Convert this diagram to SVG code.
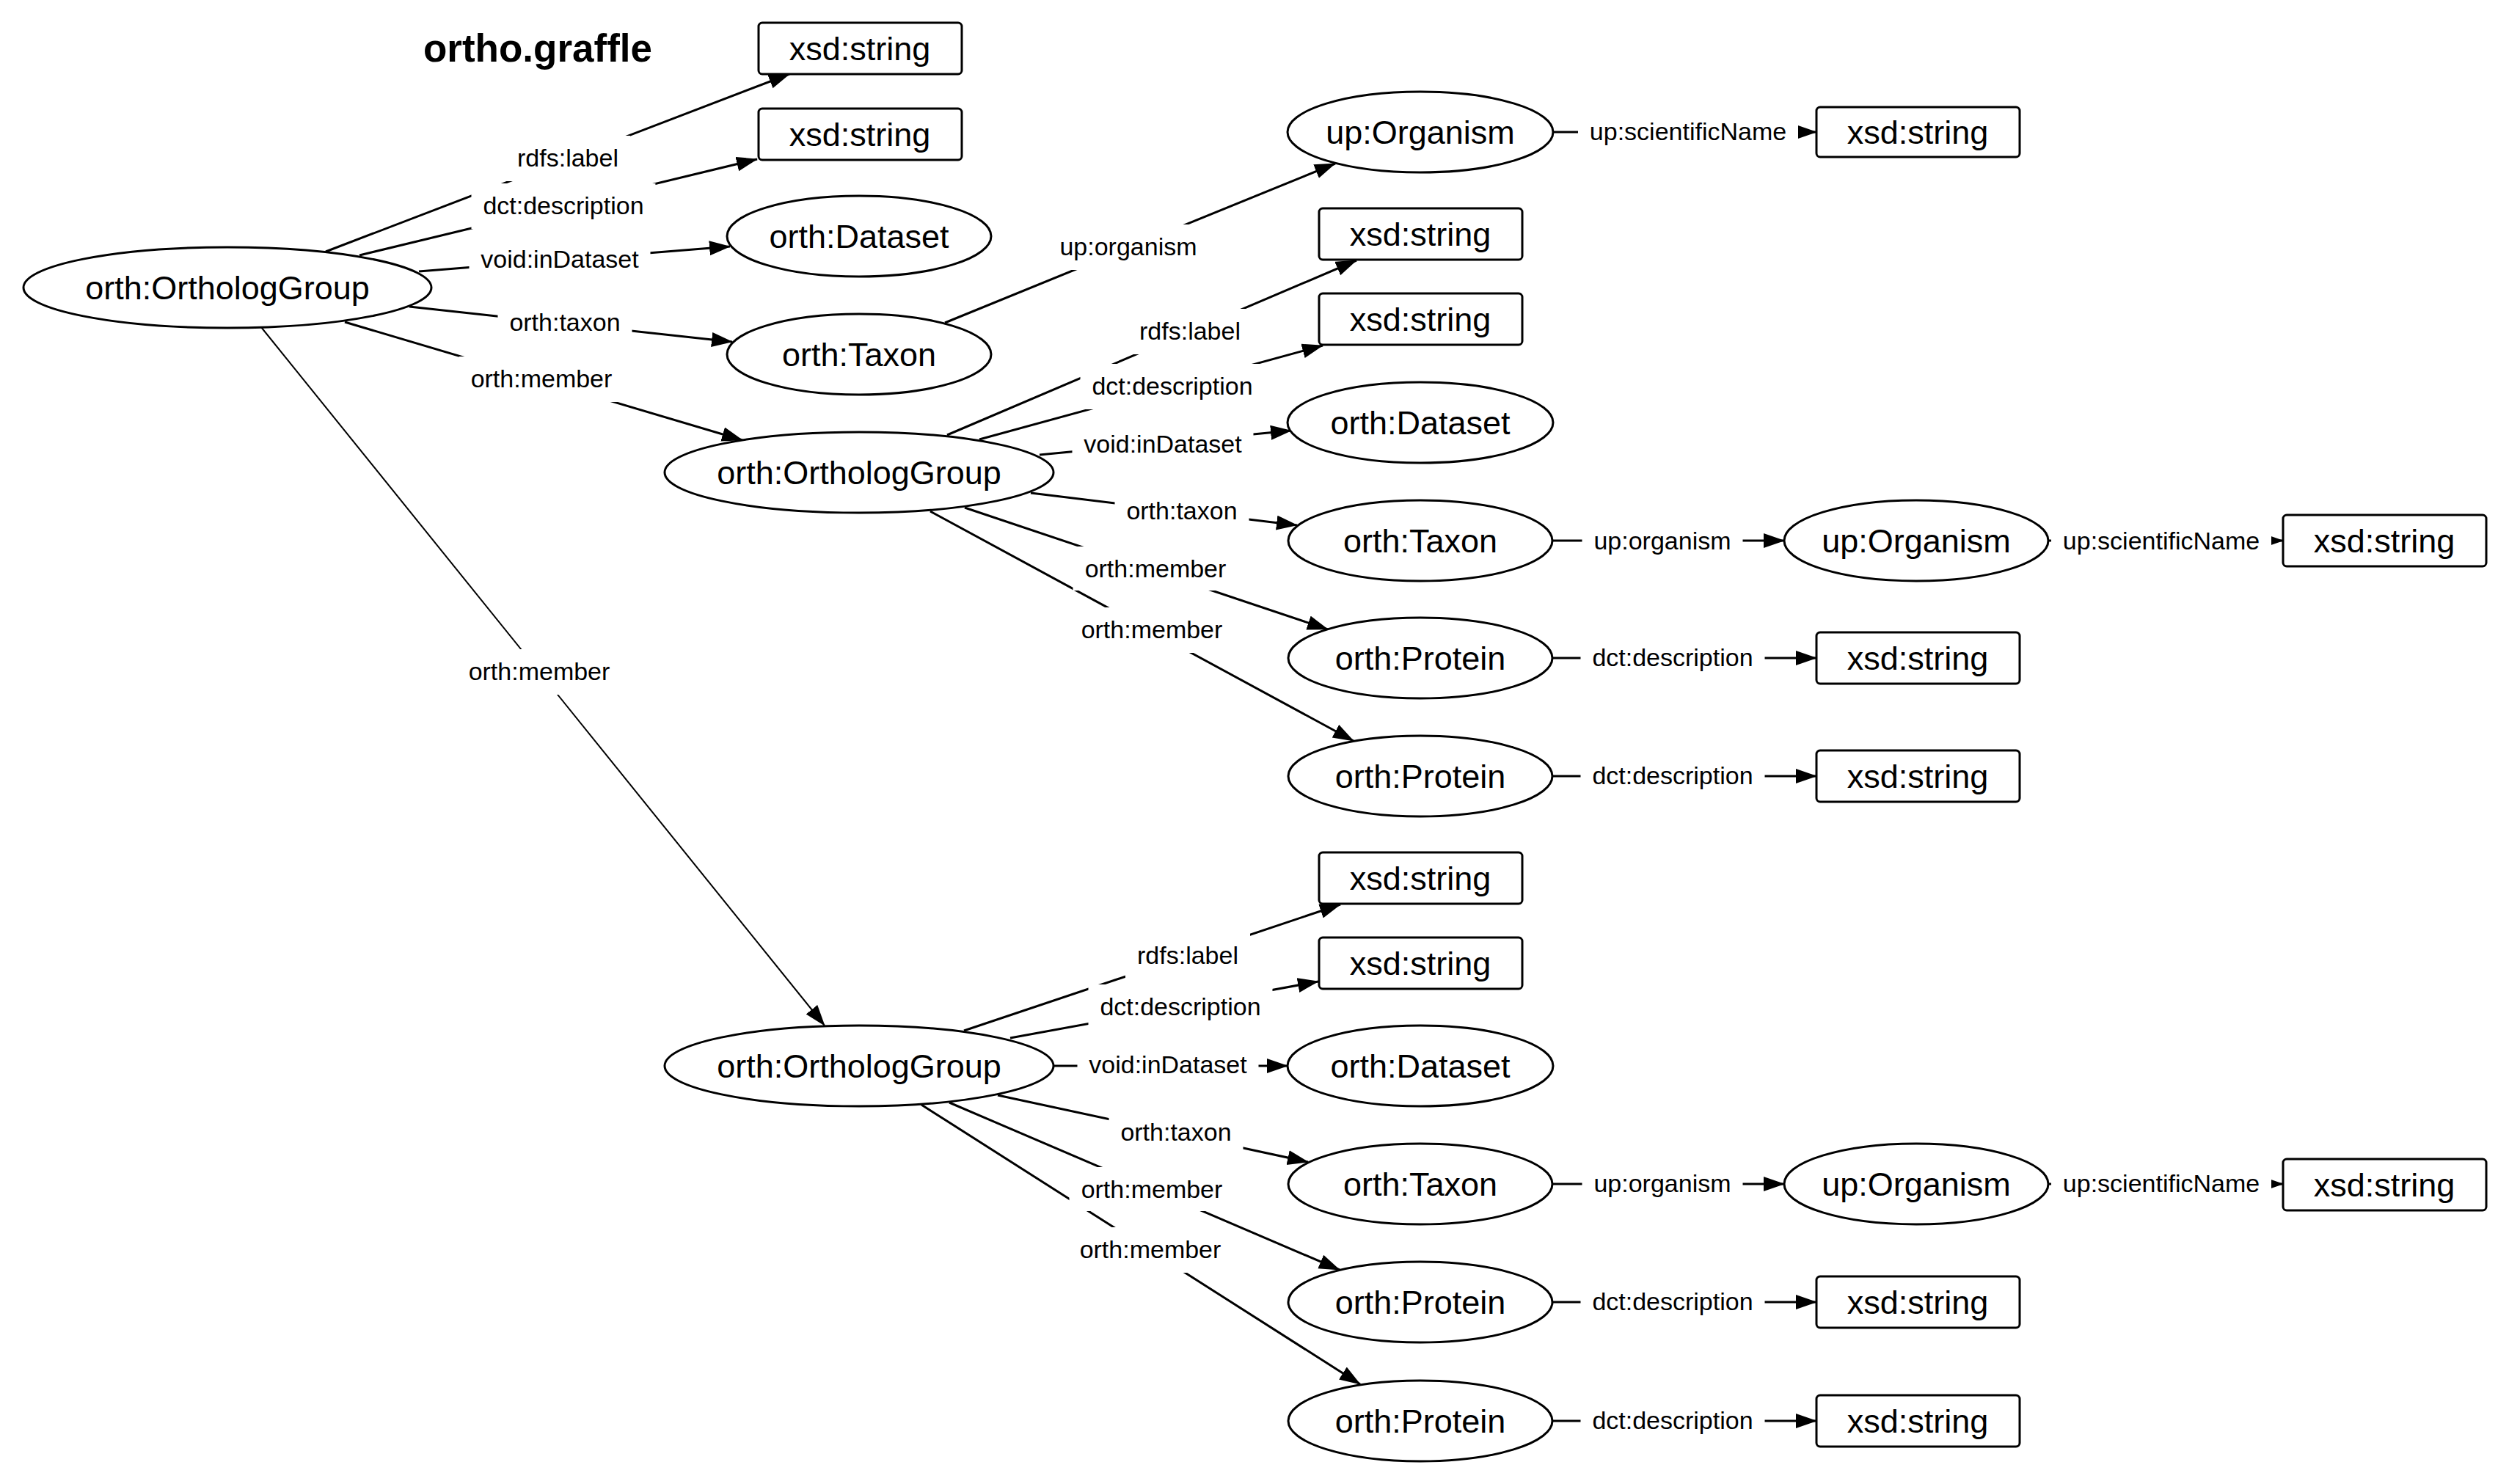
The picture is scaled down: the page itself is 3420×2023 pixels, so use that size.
<svg xmlns="http://www.w3.org/2000/svg" width="3420" height="2023" viewBox="0 0 3420 2023">
<defs>
<marker id="arrow" markerUnits="userSpaceOnUse" markerWidth="30" markerHeight="22" refX="28" refY="10" orient="auto">
<path d="M0,0 L29,10 L0,20 Z" fill="#000"/>
</marker>
<style>
.edge{stroke:#000;stroke-width:3;fill:none;marker-end:url(#arrow)}
.thin{stroke-width:2}
.lbg{fill:#fff;stroke:none}
.lbl{font-family:"Liberation Sans",Arial,Helvetica,sans-serif;font-size:34px;fill:#000;text-anchor:middle}
.node ellipse,.node rect{fill:#fff;stroke:#000;stroke-width:3}
.node text{font-family:"Liberation Sans",Arial,Helvetica,sans-serif;font-size:45px;fill:#000;text-anchor:middle}
.title{font-family:"Liberation Sans",Arial,Helvetica,sans-serif;font-size:53px;font-weight:bold;fill:#000;text-anchor:middle}
</style>
</defs>
<rect width="3420" height="2023" fill="#fff"/>
<text class="title" x="733" y="84">ortho.graffle</text>

<g id="connectors">
<line class="edge" x1="444" y1="343" x2="1076" y2="101"/>
<line class="edge" x1="490" y1="348" x2="1032" y2="217"/>
<line class="edge" x1="571" y1="370" x2="995" y2="336"/>
<line class="edge" x1="558" y1="418" x2="998" y2="466"/>
<line class="edge" x1="470" y1="439" x2="1012" y2="600"/>
<line class="edge thin" x1="356" y1="446" x2="1124" y2="1398"/>
<line class="edge" x1="1288" y1="440" x2="1820" y2="223"/>
<line class="edge" x1="2117" y1="180" x2="2476" y2="180"/>

<line class="edge" x1="1291" y1="593" x2="1849" y2="355"/>
<line class="edge" x1="1335" y1="599" x2="1803" y2="471"/>
<line class="edge" x1="1417" y1="620" x2="1760" y2="587"/>
<line class="edge" x1="1405" y1="672" x2="1768" y2="716"/>
<line class="edge" x1="1315" y1="692" x2="1810" y2="858"/>
<line class="edge" x1="1268" y1="697" x2="1845" y2="1010"/>
<line class="edge" x1="2116" y1="737" x2="2432" y2="737"/>
<line class="edge" x1="2792" y1="737" x2="3112" y2="737"/>
<line class="edge" x1="2116" y1="897" x2="2476" y2="897"/>
<line class="edge" x1="2116" y1="1058" x2="2476" y2="1058"/>

<line class="edge" x1="1314" y1="1405" x2="1827" y2="1233"/>
<line class="edge" x1="1377" y1="1415" x2="1797" y2="1338"/>
<line class="edge" x1="1437" y1="1453" x2="1755" y2="1453"/>
<line class="edge" x1="1360" y1="1493" x2="1783" y2="1584"/>
<line class="edge" x1="1294" y1="1503" x2="1826" y2="1731"/>
<line class="edge" x1="1256" y1="1506" x2="1854" y2="1887"/>
<line class="edge" x1="2116" y1="1614" x2="2432" y2="1614"/>
<line class="edge" x1="2792" y1="1614" x2="3112" y2="1614"/>
<line class="edge" x1="2116" y1="1775" x2="2476" y2="1775"/>
<line class="edge" x1="2116" y1="1937" x2="2476" y2="1937"/>
</g>

<g id="edge-labels">
<g><rect class="lbg" x="689" y="185" width="170" height="62"/><text class="lbl" x="774" y="227">rdfs:label</text></g>
<g><rect class="lbg" x="642.5" y="250" width="251" height="62"/><text class="lbl" x="768" y="292">dct:description</text></g>
<g><rect class="lbg" x="639.5" y="323" width="247" height="62"/><text class="lbl" x="763" y="365">void:inDataset</text></g>
<g><rect class="lbg" x="678.5" y="409" width="183" height="62"/><text class="lbl" x="770" y="451">orth:taxon</text></g>
<g><rect class="lbg" x="625.5" y="486" width="225" height="62"/><text class="lbl" x="738" y="528">orth:member</text></g>
<g><rect class="lbg" x="622.5" y="885" width="225" height="62"/><text class="lbl" x="735" y="927">orth:member</text></g>
<g><rect class="lbg" x="1428.5" y="306" width="219" height="62"/><text class="lbl" x="1538" y="348">up:organism</text></g>
<g><rect class="lbg" x="2151" y="149" width="300" height="62"/><text class="lbl" x="2301" y="191">up:scientificName</text></g>

<g><rect class="lbg" x="1537" y="421" width="170" height="62"/><text class="lbl" x="1622" y="463">rdfs:label</text></g>
<g><rect class="lbg" x="1472.5" y="496" width="251" height="62"/><text class="lbl" x="1598" y="538">dct:description</text></g>
<g><rect class="lbg" x="1461.5" y="575" width="247" height="62"/><text class="lbl" x="1585" y="617">void:inDataset</text></g>
<g><rect class="lbg" x="1519.5" y="666" width="183" height="62"/><text class="lbl" x="1611" y="708">orth:taxon</text></g>
<g><rect class="lbg" x="1462.5" y="745" width="225" height="60"/><text class="lbl" x="1575" y="787">orth:member</text></g>
<g><rect class="lbg" x="1457.5" y="828" width="225" height="62"/><text class="lbl" x="1570" y="870">orth:member</text></g>
<g><rect class="lbg" x="2156.5" y="707" width="219" height="62"/><text class="lbl" x="2266" y="749">up:organism</text></g>
<g><rect class="lbg" x="2796" y="707" width="300" height="62"/><text class="lbl" x="2946" y="749">up:scientificName</text></g>
<g><rect class="lbg" x="2154.5" y="866" width="251" height="62"/><text class="lbl" x="2280" y="908">dct:description</text></g>
<g><rect class="lbg" x="2154.5" y="1027" width="251" height="62"/><text class="lbl" x="2280" y="1069">dct:description</text></g>

<g><rect class="lbg" x="1534" y="1272" width="170" height="62"/><text class="lbl" x="1619" y="1314">rdfs:label</text></g>
<g><rect class="lbg" x="1483.5" y="1342" width="251" height="62"/><text class="lbl" x="1609" y="1384">dct:description</text></g>
<g><rect class="lbg" x="1468.5" y="1421" width="247" height="62"/><text class="lbl" x="1592" y="1463">void:inDataset</text></g>
<g><rect class="lbg" x="1511.5" y="1513" width="183" height="62"/><text class="lbl" x="1603" y="1555">orth:taxon</text></g>
<g><rect class="lbg" x="1457.5" y="1591" width="225" height="60"/><text class="lbl" x="1570" y="1633">orth:member</text></g>
<g><rect class="lbg" x="1455.5" y="1673" width="225" height="62"/><text class="lbl" x="1568" y="1715">orth:member</text></g>
<g><rect class="lbg" x="2156.5" y="1583" width="219" height="62"/><text class="lbl" x="2266" y="1625">up:organism</text></g>
<g><rect class="lbg" x="2796" y="1583" width="300" height="62"/><text class="lbl" x="2946" y="1625">up:scientificName</text></g>
<g><rect class="lbg" x="2154.5" y="1744" width="251" height="62"/><text class="lbl" x="2280" y="1786">dct:description</text></g>
<g><rect class="lbg" x="2154.5" y="1906" width="251" height="62"/><text class="lbl" x="2280" y="1948">dct:description</text></g>
</g>

<g id="nodes">
<g id="og1" class="node"><ellipse cx="310" cy="392" rx="278" ry="55"/><text x="310" y="408">orth:OrthologGroup</text></g>
<g id="strA1" class="node"><rect x="1034" y="31" width="277" height="70" rx="5"/><text x="1172" y="82">xsd:string</text></g>
<g id="strA2" class="node"><rect x="1034" y="148" width="277" height="70" rx="5"/><text x="1172" y="199">xsd:string</text></g>
<g id="dsA" class="node"><ellipse cx="1171" cy="322" rx="180" ry="55"/><text x="1171" y="338">orth:Dataset</text></g>
<g id="taxA" class="node"><ellipse cx="1171" cy="483" rx="180" ry="55"/><text x="1171" y="499">orth:Taxon</text></g>
<g id="orgA" class="node"><ellipse cx="1936" cy="180" rx="181" ry="55"/><text x="1936" y="196">up:Organism</text></g>
<g id="strOrgA" class="node"><rect x="2476" y="146" width="277" height="68" rx="5"/><text x="2614" y="196">xsd:string</text></g>

<g id="og2" class="node"><ellipse cx="1171" cy="644" rx="265" ry="55"/><text x="1171" y="660">orth:OrthologGroup</text></g>
<g id="strB1" class="node"><rect x="1798" y="284" width="277" height="70" rx="5"/><text x="1936" y="335">xsd:string</text></g>
<g id="strB2" class="node"><rect x="1798" y="400" width="277" height="70" rx="5"/><text x="1936" y="451">xsd:string</text></g>
<g id="dsB" class="node"><ellipse cx="1936" cy="576" rx="181" ry="55"/><text x="1936" y="592">orth:Dataset</text></g>
<g id="taxB" class="node"><ellipse cx="1936" cy="737" rx="180" ry="55"/><text x="1936" y="753">orth:Taxon</text></g>
<g id="orgB" class="node"><ellipse cx="2612" cy="737" rx="180" ry="55"/><text x="2612" y="753">up:Organism</text></g>
<g id="strOrgB" class="node"><rect x="3112" y="702" width="277" height="70" rx="5"/><text x="3250" y="753">xsd:string</text></g>
<g id="protB1" class="node"><ellipse cx="1936" cy="897" rx="180" ry="55"/><text x="1936" y="913">orth:Protein</text></g>
<g id="strPB1" class="node"><rect x="2476" y="862" width="277" height="70" rx="5"/><text x="2614" y="913">xsd:string</text></g>
<g id="protB2" class="node"><ellipse cx="1936" cy="1058" rx="180" ry="55"/><text x="1936" y="1074">orth:Protein</text></g>
<g id="strPB2" class="node"><rect x="2476" y="1023" width="277" height="70" rx="5"/><text x="2614" y="1074">xsd:string</text></g>

<g id="og3" class="node"><ellipse cx="1171" cy="1453" rx="265" ry="55"/><text x="1171" y="1469">orth:OrthologGroup</text></g>
<g id="strC1" class="node"><rect x="1798" y="1162" width="277" height="70" rx="5"/><text x="1936" y="1213">xsd:string</text></g>
<g id="strC2" class="node"><rect x="1798" y="1278" width="277" height="70" rx="5"/><text x="1936" y="1329">xsd:string</text></g>
<g id="dsC" class="node"><ellipse cx="1936" cy="1453" rx="181" ry="55"/><text x="1936" y="1469">orth:Dataset</text></g>
<g id="taxC" class="node"><ellipse cx="1936" cy="1614" rx="180" ry="55"/><text x="1936" y="1630">orth:Taxon</text></g>
<g id="orgC" class="node"><ellipse cx="2612" cy="1614" rx="180" ry="55"/><text x="2612" y="1630">up:Organism</text></g>
<g id="strOrgC" class="node"><rect x="3112" y="1580" width="277" height="70" rx="5"/><text x="3250" y="1631">xsd:string</text></g>
<g id="protC1" class="node"><ellipse cx="1936" cy="1775" rx="180" ry="55"/><text x="1936" y="1791">orth:Protein</text></g>
<g id="strPC1" class="node"><rect x="2476" y="1740" width="277" height="70" rx="5"/><text x="2614" y="1791">xsd:string</text></g>
<g id="protC2" class="node"><ellipse cx="1936" cy="1937" rx="180" ry="55"/><text x="1936" y="1953">orth:Protein</text></g>
<g id="strPC2" class="node"><rect x="2476" y="1902" width="277" height="70" rx="5"/><text x="2614" y="1953">xsd:string</text></g>
</g>
</svg>
